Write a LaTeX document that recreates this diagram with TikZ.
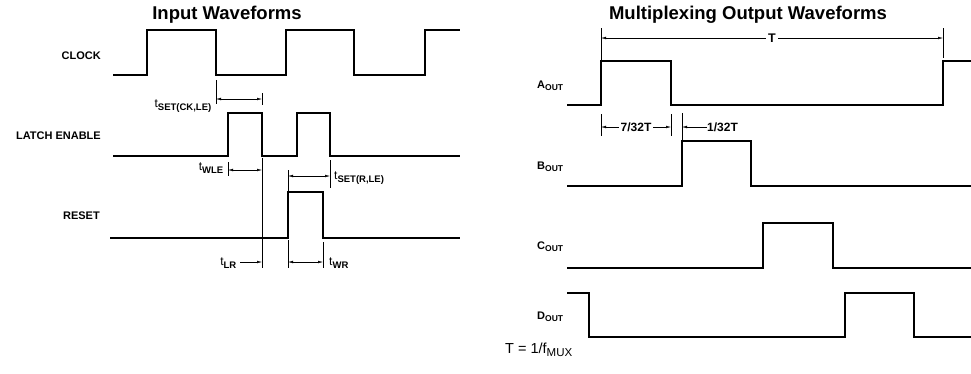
\documentclass[tikz,border=0pt]{standalone}
\usepackage{fontspec}
\setmainfont{Liberation Sans}
\usetikzlibrary{arrows.meta}
\tikzset{
  wave/.style={line width=1.7pt,line join=miter},
  tick/.style={line width=.5pt},
  dim/.style={line width=.5pt,{Latex[length=5pt,width=2.6pt]}-{Latex[length=5pt,width=2.6pt]}},
  dimto/.style={line width=.5pt,-{Latex[length=5pt,width=2.6pt]}},
  signame/.style={font=\bfseries\fontsize{11}{13}\selectfont,inner sep=0pt},
  fracname/.style={font=\bfseries\fontsize{12}{14}\selectfont,inner sep=0pt},
  timename/.style={font=\fontsize{12}{14}\selectfont,inner sep=0pt},
  heading/.style={font=\bfseries\fontsize{18.5}{21}\selectfont,inner sep=0pt}
}
\newcommand{\tsub}[2]{#1\textsubscript{\bfseries\fontsize{9.5}{11}\selectfont #2}}
\newcommand{\outsub}[1]{#1\textsubscript{\fontsize{8.5}{10}\selectfont OUT}}
\begin{document}
\begin{tikzpicture}[x=1pt,y=-1pt]
  \useasboundingbox (0,0) rectangle (971,373);
  % titles
  \node [heading] (inTitle) at (227,15) {Input Waveforms};
  \node [heading] (muxTitle) at (748,15) {Multiplexing Output Waveforms};

  % input waveforms
  \node [signame,anchor=east] (Clock) at (101,56) {CLOCK};
  \node [signame,anchor=east] (LE) at (101,136) {LATCH ENABLE};
  \node [signame,anchor=east] (Reset) at (100,216) {RESET};
  \draw [wave] (113,75) -- (147,75) -- (147,30) -- (216,30) -- (216,75) -- (286,75) -- (286,30)
    -- (354,30) -- (354,75) -- (425,75) -- (425,30) -- (460,30);
  \draw [wave] (113,156) -- (228,156) -- (228,113) -- (262,113) -- (262,156) -- (297,156)
    -- (297,113) -- (330,113) -- (330,156) -- (460,156);
  \draw [wave] (110,238) -- (288,238) -- (288,192) -- (323,192) -- (323,238) -- (460,238);

  % input timing
  \coordinate (ckA) at (216,99);
  \coordinate (ckB) at (262,99);
  \draw [tick] (216,80) -- (216,104);
  \draw [tick] (262,93) -- (262,105);
  \draw [dim] (ckA) -- (ckB);
  \node [timename,anchor=east] (tSetCk) at (212,106) {\tsub{t}{SET(CK,LE)}};

  \coordinate (wleA) at (228,170);
  \coordinate (wleB) at (262,170);
  \draw [tick] (228,162) -- (228,176);
  \draw [tick] (262,158) -- (262,268);
  \draw [dim] (wleA) -- (wleB);
  \node [timename,anchor=east] (tWle) at (224,168) {\tsub{t}{WLE}};

  \coordinate (srA) at (288,176);
  \coordinate (srB) at (330,176);
  \draw [tick] (288,170) -- (288,192);
  \draw [tick] (330,160) -- (330,188);
  \draw [dim] (srA) -- (srB);
  \node [timename,anchor=west] (tSetR) at (334,178) {\tsub{t}{SET(R,LE)}};

  \coordinate (lrA) at (240,262);
  \coordinate (lrB) at (262,262);
  \draw [dimto] (lrA) -- (lrB);
  \node [timename,anchor=east] (tLr) at (237,263) {\tsub{t}{LR}};

  \coordinate (wrA) at (288,262);
  \coordinate (wrB) at (323,262);
  \draw [tick] (288,240) -- (288,268);
  \draw [tick] (323,242) -- (323,268);
  \draw [dim] (wrA) -- (wrB);
  \node [timename,anchor=west] (tWr) at (329,263) {\tsub{t}{WR}};

  % output waveforms
  \node [signame,anchor=west] (Aout) at (537,86) {\outsub{A}};
  \node [signame,anchor=west] (Bout) at (537,167) {\outsub{B}};
  \node [signame,anchor=west] (Cout) at (537,247) {\outsub{C}};
  \node [signame,anchor=west] (Dout) at (537,317) {\outsub{D}};
  \draw [wave] (567,105) -- (601,105) -- (601,61) -- (671,61) -- (671,105) -- (943,105) -- (943,61) -- (972,61);
  \draw [wave] (567,186) -- (682,186) -- (682,141) -- (751,141) -- (751,186) -- (972,186);
  \draw [wave] (567,268) -- (763,268) -- (763,223) -- (833,223) -- (833,268) -- (972,268);
  \draw [wave] (567,293) -- (589,293) -- (589,337) -- (845,337) -- (845,293) -- (914,293) -- (914,337) -- (972,337);

  % output timing
  \coordinate (perA) at (601,38);
  \coordinate (perB) at (943,38);
  \draw [tick] (601,28) -- (601,60);
  \draw [tick] (943,28) -- (943,58);
  \draw [dim] (perA) -- node [fracname,font=\bfseries\fontsize{12.5}{14}\selectfont,fill=white,inner xsep=2pt] (Tper) {T} (perB);

  \coordinate (onA) at (601,127);
  \coordinate (onB) at (671,127);
  \draw [tick] (601,114) -- (601,136);
  \draw [tick] (671,114) -- (671,136);
  \draw [dim] (onA) -- node [fracname,fill=white,inner xsep=1.5pt] (Ton) {7/32T} (onB);

  \coordinate (gapA) at (682,127);
  \draw [tick] (682,113) -- (682,141);
  \node [fracname,anchor=west] (Tgap) at (707,127) {1/32T};
  \draw [dimto] (Tgap.west) -- (gapA);

  \node [timename,font=\fontsize{14.5}{16}\selectfont,anchor=west] (Tdef) at (505,350)
    {T = 1/f\textsubscript{\fontsize{11.5}{13}\selectfont MUX}};
\end{tikzpicture}
\end{document}
